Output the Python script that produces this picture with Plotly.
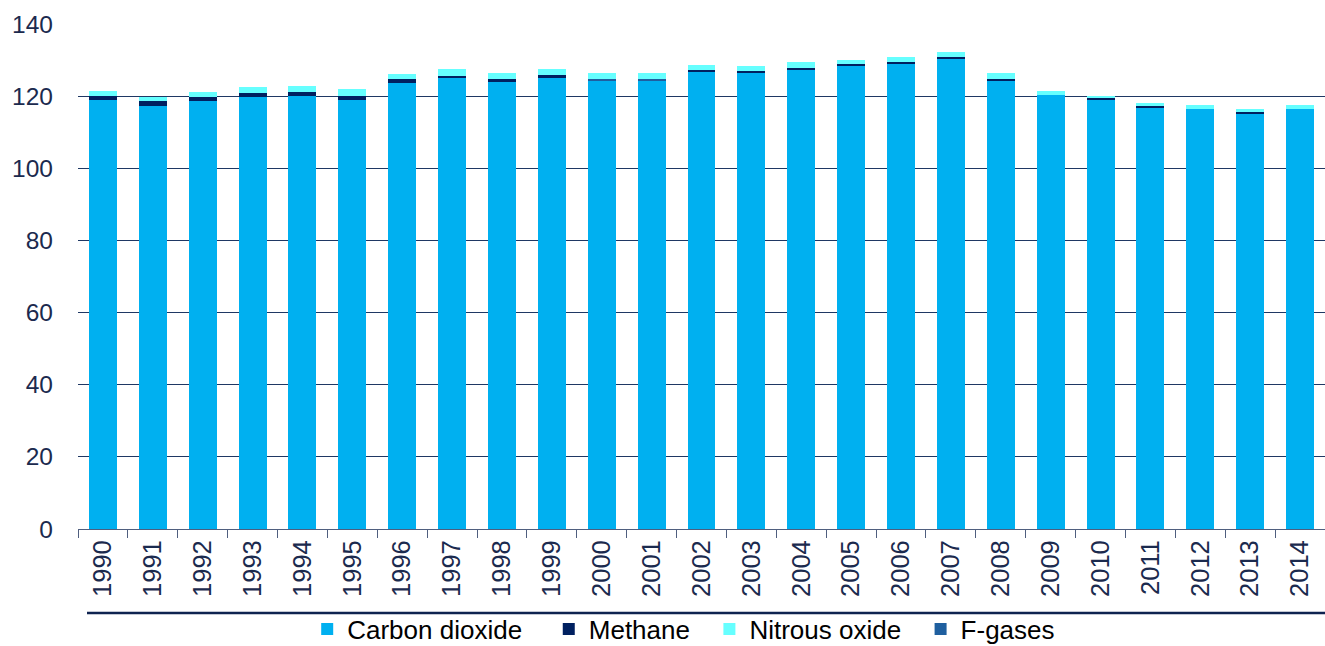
import plotly.graph_objects as go

years = [str(y) for y in range(1990, 2015)]
carbon_dioxide = [119.0, 117.3, 118.7, 119.8, 120.1, 119.0, 123.6, 125.0, 124.0, 125.0,
                  124.3, 124.3, 126.8, 126.5, 127.4, 128.6, 129.0, 130.4, 124.4, 120.4,
                  119.0, 116.8, 116.4, 115.1, 116.4]
methane = [1.1, 1.4, 1.0, 1.0, 1.0, 1.1, 1.2, 0.6, 0.75, 0.75,
           0.0, 0.0, 0.5, 0.5, 0.45, 0.4, 0.45, 0.5, 0.45, 0.0,
           0.35, 0.55, 0.0, 0.4, 0.0]
f_gases = [0.0, 0.0, 0.0, 0.0, 0.0, 0.0, 0.0, 0.0, 0.0, 0.0,
           0.55, 0.55, 0.0, 0.0, 0.0, 0.0, 0.0, 0.0, 0.0, 0.0,
           0.0, 0.0, 0.0, 0.0, 0.0]
nitrous_oxide = [1.4, 1.2, 1.5, 1.8, 1.8, 1.8, 1.4, 1.8, 1.75, 1.75,
                 1.65, 1.65, 1.4, 1.4, 1.6, 1.1, 1.4, 1.3, 1.65, 1.1,
                 0.8, 0.65, 1.2, 0.9, 1.2]

FONT = "Liberation Sans, Arial, sans-serif"
NAVY = "#1b2a4e"

fig = go.Figure()
fig.add_trace(go.Bar(x=years, y=carbon_dioxide, name="Carbon dioxide\u00a0\u00a0\u00a0",
                     marker=dict(color="#00b0f0", line=dict(width=0)), legendrank=1))
fig.add_trace(go.Bar(x=years, y=methane, name="Methane\u00a0\u00a0",
                     marker=dict(color="#002060", line=dict(width=0)), legendrank=2))
fig.add_trace(go.Bar(x=years, y=f_gases, name="F-gases",
                     marker=dict(color="#1f5f9f", line=dict(width=0)), legendrank=4))
fig.add_trace(go.Bar(x=years, y=nitrous_oxide, name="Nitrous oxide\u00a0\u00a0",
                     marker=dict(color="#66ffff", line=dict(width=0)), legendrank=3))

fig.update_layout(
    width=1325, height=646,
    margin=dict(l=78, r=0, t=24, b=117),
    barmode="stack", bargap=0.44,
    plot_bgcolor="white", paper_bgcolor="white",
    font=dict(family=FONT, size=24, color=NAVY),
    showlegend=True,
    legend=dict(orientation="h", x=0.516, xanchor="center", xref="container",
                y=0.026, yanchor="middle", yref="container",
                font=dict(size=26, color="#000000"),
                traceorder="normal", itemwidth=30, bgcolor="rgba(0,0,0,0)"),
    xaxis=dict(type="category", showline=True, linecolor="#4f5f7f", linewidth=1,
               ticks="outside", ticklen=8, tickcolor="#4f5f7f", tickson="boundaries",
               tickangle=-90, tickfont=dict(size=25.5, color=NAVY), showgrid=False),
    yaxis=dict(range=[0, 140], dtick=20, showgrid=True, gridcolor="#1f3864", gridwidth=1,
               zeroline=False, showline=False, ticks="", ticklabelstandoff=24,
               tickfont=dict(size=24.5, color=NAVY)),
    shapes=[dict(type="line", xref="paper", yref="paper",
                 x0=(87 - 78) / 1247, x1=1, y0=(529 - 613) / 505, y1=(529 - 613) / 505,
                 line=dict(color="#0f2350", width=2.5))],
)

fig.write_html("out.html")
